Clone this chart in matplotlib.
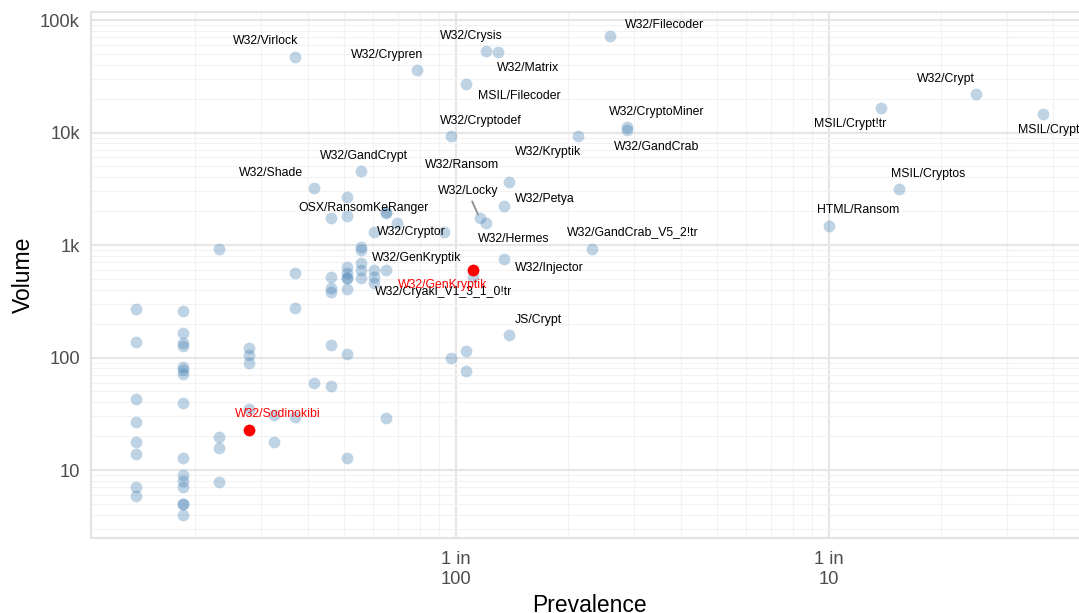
import matplotlib
matplotlib.use("Agg")
import matplotlib.pyplot as plt

plt.rcParams['font.family'] = ['Liberation Sans', 'DejaVu Sans']

TOTAL = 2160  # machines in sample (prevalence = count / TOTAL)

# ---- unlabeled points: machine count, volume ----
counts = [3, 3, 3, 3, 3, 3, 3, 3,
          4, 4, 4, 4, 4, 4, 4, 4, 4, 4, 4, 4, 4, 4, 4,
          5, 5, 5, 5,
          6, 6, 6, 6,
          7, 7,
          8, 8, 8,
          9,
          10, 10, 10, 10, 10, 10,
          11, 11, 11, 11, 11, 11, 11, 11, 11,
          12, 12, 12, 12, 12,
          13, 13, 13,
          14, 14,
          15,
          20,
          21,
          23, 23]
volumes = [270, 138, 42.7, 26.9, 17.9, 13.9, 7.0, 5.9,
           259, 166, 136, 127, 82, 77, 72, 39.7, 12.9, 9.0, 8.0, 7.0, 5.0, 5.0, 4.0,
           916, 19.8, 15.8, 7.9,
           121, 105, 90, 34.9,
           30.8, 17.9,
           560, 277, 29.8,
           59.7,
           1726, 522, 417, 380, 130, 55.8,
           2690, 1820, 640, 560, 512, 512, 406, 108, 12.9,
           966, 900, 687, 600, 512,
           600, 522, 457,
           1950, 28.8,
           1578,
           1297,
           100,
           114, 75.9]

# ---- labeled points ----
label_names = ["W32/Virlock", "W32/Crypren", "W32/Crysis", "W32/Matrix", "W32/Filecoder",
               "MSIL/Filecoder", "W32/Cryptodef", "W32/CryptoMiner", "W32/GandCrab",
               "W32/Kryptik", "W32/GandCrypt", "W32/Shade", "W32/Ransom", "W32/Locky",
               "W32/Petya", "OSX/RansomKeRanger", "W32/Cryptor", "W32/Hermes",
               "W32/GandCrab_V5_2!tr", "W32/GenKryptik", "W32/Injector",
               "W32/Cryakl_V1_3_1_0!tr", "JS/Crypt", "W32/Crypt", "MSIL/Crypt!tr",
               "MSIL/Crypt", "MSIL/Cryptos", "HTML/Ransom"]
label_counts = [8, 17, 26, 28, 56,
                23, 21, 62, 62,
                46, 12, 9, 30, 25,
                29, 14, 13, 26,
                50, 14, 29,
                24, 30, 536, 297,
                808, 332, 216]
label_volumes = [46900, 36100, 53300, 52200, 72400,
                 26800, 9380, 11300, 10500,
                 9380, 4550, 3230, 3600, 1726,
                 2230, 1914, 1297, 1578,
                 916, 600, 747,
                 525, 158, 21900, 16500,
                 14500, 3150, 1466]

# ---- highlighted (red) points ----
hl_names = ["W32/Sodinokibi", "W32/GenKryptik"]
hl_counts = [6, 24]
hl_volumes = [22.7, 600]

# label offsets in pixels (dx right, dy down) - layout only
label_offsets = [(-30, -16), (-30, -15), (-15, -15), (30, 16), (54, -11),
                 (53, 12), (29, -15), (30, -15), (30, 17),
                 (-30, 16), (3, -15), (-43, -15), (-47, -17), (-12, -27),
                 (41, -7), (-22, -5), (38, 0), (28, 16),
                 (41, -17), (31, -12), (46, 9),
                 (-30, 15), (29, -15), (-30, -15), (-30, 16),
                 (6, 16), (30, -15), (29, -16)]
hl_offsets = [(29, -16), (-30, 15)]
segment_labels = {"W32/Locky"}

fig = plt.figure(figsize=(10.79, 6.13), dpi=100)
W, H = 1079, 613
ax = fig.add_axes([91 / W, (H - 538) / H, (1087 - 91) / W, (538 - 12) / H])
ax.set_xscale('log')
ax.set_yscale('log')

prev = [c / TOTAL for c in counts]
lprev = [c / TOTAL for c in label_counts]
hprev = [c / TOTAL for c in hl_counts]

pt_size = 72
ax.scatter(prev + lprev, volumes + label_volumes, s=pt_size, color='steelblue',
           alpha=0.35, linewidths=0, zorder=2)
ax.scatter(hprev, hl_volumes, s=pt_size, color='#FF0000', linewidths=0, zorder=3)

for name, x, y, (dx, dy) in zip(label_names, lprev, label_volumes, label_offsets):
    kw = {}
    if name in segment_labels:
        kw['arrowprops'] = dict(arrowstyle='-', color='#8c8c8c', lw=1.3,
                                shrinkA=1, shrinkB=3)
    ax.annotate(name, (x, y), xytext=(dx, -dy), textcoords='offset pixels',
                ha='center', va='center', fontsize=8.8, color='black', zorder=4, **kw)
for name, x, y, (dx, dy) in zip(hl_names, hprev, hl_volumes, hl_offsets):
    ax.annotate(name, (x, y), xytext=(dx, -dy), textcoords='offset pixels',
                ha='center', va='center', fontsize=8.8, color='#FF0000', zorder=5)

# ticks
ax.set_xticks([0.01, 0.1])
ax.set_xticklabels(["1 in\n100", "1 in\n10"])
ax.set_xticks([m * 10.0 ** e for e in (-3, -2, -1) for m in range(2, 10)], minor=True)
ax.set_yticks([10, 100, 1000, 10000, 100000])
ax.set_yticklabels(["10", "100", "1k", "10k", "100k"])
ax.set_yticks([m * 10.0 ** e for e in range(0, 6) for m in range(2, 10)], minor=True)
ax.xaxis.set_minor_formatter(matplotlib.ticker.NullFormatter())
ax.yaxis.set_minor_formatter(matplotlib.ticker.NullFormatter())
ax.set_xlim(0.00105, 0.492)
ax.set_ylim(2.49, 117800)
ax.tick_params(which='both', length=0)
ax.tick_params(axis='x', which='major', labelsize=13.2, colors='#4D4D4D', pad=9)
ax.tick_params(axis='y', which='major', labelsize=13.2, colors='#4D4D4D', pad=8)
for lab in ax.get_xticklabels():
    lab.set_linespacing(1.3)

ax.grid(which='major', color='#E6E6E6', lw=1.5)
ax.grid(which='minor', color='#F2F2F2', lw=0.8)
ax.set_axisbelow(True)
for s in ax.spines.values():
    s.set_color('#E3E3E3')
    s.set_linewidth(1.5)

ax.set_xlabel("Prevalence", fontsize=16.5, color='black', labelpad=4)
ax.set_ylabel("Volume", fontsize=16.5, color='black', labelpad=4)

fig.savefig("out.png", dpi=100)
